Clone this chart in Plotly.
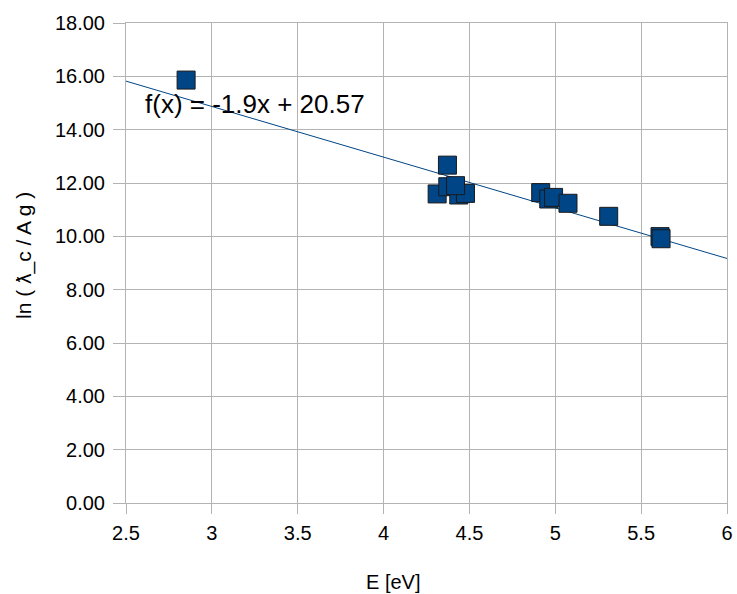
import plotly.graph_objects as go

energy_ev = [2.85, 4.372, 4.312, 4.374, 4.438, 4.477, 4.419, 4.915, 4.962, 4.99, 5.074, 5.311, 5.61, 5.616]
ln_ratio = [15.86, 12.67, 11.59, 11.86, 11.55, 11.61, 11.90, 11.64, 11.40, 11.46, 11.24, 10.75, 9.99, 9.91]

trend_slope = -1.9
trend_intercept = 20.57
x_range = [2.5, 6]
y_range = [0, 18]
x_ticks = [2.5, 3, 3.5, 4, 4.5, 5, 5.5, 6]
y_ticks = [0, 2, 4, 6, 8, 10, 12, 14, 16, 18]

color = "#004586"
font = "Liberation Sans, Arial, sans-serif"

fig = go.Figure()
fig.add_trace(go.Scatter(
    x=x_range,
    y=[trend_slope * v + trend_intercept for v in x_range],
    mode="lines", line=dict(color=color, width=1), showlegend=False, hoverinfo="skip"))
fig.add_trace(go.Scatter(
    x=energy_ev, y=ln_ratio, mode="markers",
    marker=dict(symbol="square", size=18, color=color, line=dict(color="#1a1a1a", width=1)),
    showlegend=False))

fig.add_annotation(x=2.6, y=14.95, xref="x", yref="y", xanchor="left", yanchor="middle",
                   text="f(x) = -1.9x + 20.57", showarrow=False,
                   font=dict(family=font, size=26, color="#000000"))

# axis titles placed as annotations (offset like the reference)
fig.add_annotation(x=393, y=594 - 582, xref="paper", yref="paper", text="E [eV]",
                   showarrow=False, xanchor="center", yanchor="middle",
                   font=dict(family=font, size=20, color="#000000"))
fig.add_annotation(x=24, y=594 - 256, xref="paper", yref="paper", text="ln ( ƛ_c / A g )",
                   showarrow=False, textangle=-90, xanchor="center", yanchor="middle",
                   font=dict(family=font, size=21, color="#000000"))

W, H = 737, 594
ML, MR, MT, MB = 126, 10, 23, 91
pw, ph = W - ML - MR, H - MT - MB
# convert annotation pixel positions to paper fractions
for a in fig.layout.annotations[1:]:
    a.x = (a.x - ML) / pw
    a.y = (a.y - MB) / ph

fig.update_layout(
    width=W, height=H,
    margin=dict(l=ML, r=MR, t=MT, b=MB),
    paper_bgcolor="white", plot_bgcolor="white",
    font=dict(family=font, size=20, color="#000000"),
    xaxis=dict(range=x_range, tickvals=x_ticks, ticktext=[str(t) for t in x_ticks],
               automargin=False,
               showgrid=True, gridcolor="#b3b3b3", gridwidth=1,
               zeroline=False, showline=True, linecolor="#b3b3b3", mirror=True,
               ticks="outside", ticklen=10, tickcolor="#b3b3b3", ticklabelstandoff=2),
    yaxis=dict(range=y_range, tickvals=y_ticks, ticktext=[f"{t:.2f}" for t in y_ticks],
               automargin=False,
               showgrid=True, gridcolor="#b3b3b3", gridwidth=1,
               zeroline=False, showline=True, linecolor="#b3b3b3", mirror=True,
               ticks="outside", ticklen=12, tickcolor="#b3b3b3", ticklabelstandoff=4),
)

fig.write_html("out.html", config={"displayModeBar": False},
               post_script="document.body.style.margin='0';")
